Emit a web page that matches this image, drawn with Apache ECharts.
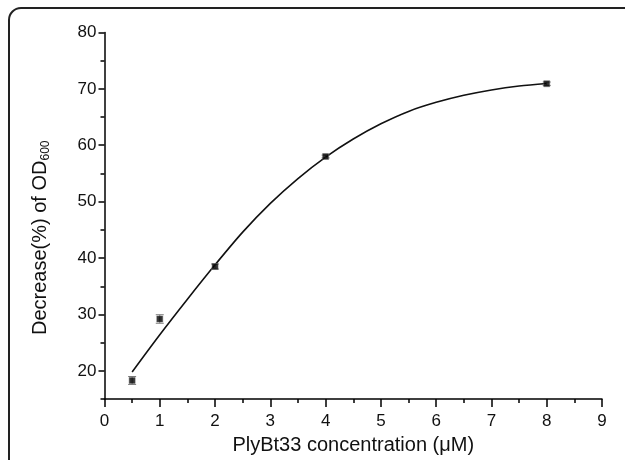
<!DOCTYPE html>
<html>
<head>
<meta charset="utf-8">
<script src="https://cdn.jsdelivr.net/npm/echarts@6/dist/echarts.min.js"></script>
<style>html,body{margin:0;padding:0;background:#fff;}#c{width:625px;height:460px;}</style>
</head>
<body>
<div id="c"></div>
<script>
// Measured data points
const xPoints = [0.5, 1, 2, 4, 8];
const yPoints = [18.3, 29.2, 38.5, 58.0, 70.9];
const yErr = [0.7, 0.75, 0.45, 0.25, 0.3];
// Fitted curve
const fitX = [0.5, 1.0, 1.5, 2.0, 2.5, 3.0, 3.5, 4.0, 4.5, 5.0, 5.5, 6.0, 6.5, 7.0, 7.5, 8.0];
const fitY = [19.8, 26.4, 32.7, 38.8, 44.6, 49.7, 54.1, 57.9, 61.1, 63.8, 66.0, 67.6, 68.85, 69.8, 70.5, 70.95];
// Tick labels
const xTicks = [0, 1, 2, 3, 4, 5, 6, 7, 8, 9];
const yTicks = [20, 30, 40, 50, 60, 70, 80];
const yMinorTicks = [15, 25, 35, 45, 55, 65, 75];

const chart = echarts.init(document.getElementById('c'));
const font = 'Liberation Sans, Arial, sans-serif';
const axisLine = { show: true, onZero: false, lineStyle: { color: '#000', width: 1.5 } };

const option = {
  backgroundColor: '#fff',
  animation: false,
  grid: { left: 104.5, right: 23, top: 32.4, bottom: 60, containLabel: false },
  xAxis: {
    type: 'value', min: xTicks[0], max: xTicks[xTicks.length - 1], interval: 1,
    axisLine: axisLine,
    axisTick: { show: true, length: 8, lineStyle: { color: '#000', width: 1.5 } },
    minorTick: { show: true, splitNumber: 2, length: 4, lineStyle: { color: '#000', width: 1.5 } },
    splitLine: { show: false },
    axisLabel: { color: '#111', fontSize: 17, fontFamily: font, margin: 14 },
    name: 'PlyBt33 concentration (\u03bcM)',
    nameLocation: 'middle', nameGap: 33,
    nameTextStyle: { color: '#111', fontSize: 20, fontFamily: font }
  },
  yAxis: [{
    type: 'value', min: 15, max: 80,
    axisLine: axisLine,
    axisTick: { show: true, length: 6, customValues: yTicks, lineStyle: { color: '#000', width: 1.5 } },
    splitLine: { show: false },
    axisLabel: { color: '#111', fontSize: 17, fontFamily: font, margin: 8, customValues: yTicks },
    name: '{a|Decrease(%) of OD}{s|600}',
    nameLocation: 'middle', nameGap: 53,
    nameTextStyle: {
      color: '#111', fontFamily: font, padding: [0, 44, 0, 0],
      rich: {
        a: { fontSize: 20, fontFamily: font, color: '#111' },
        s: { fontSize: 12, fontFamily: font, color: '#111', padding: [10, 0, 0, 0] }
      }
    }
  }, {
    type: 'value', min: 15, max: 80, position: 'left',
    axisLine: { show: false },
    axisTick: { show: true, length: 4, customValues: yMinorTicks, lineStyle: { color: '#000', width: 1.5 } },
    splitLine: { show: false },
    axisLabel: { show: false }
  }],
  series: [
    {
      type: 'line',
      data: fitX.map((x, i) => [x, fitY[i]]),
      smooth: 0.3,
      showSymbol: false, symbol: 'none',
      lineStyle: { color: '#111', width: 1.6 },
      z: 2
    },
    {
      type: 'custom',
      data: xPoints.map((x, i) => [x, yPoints[i], yErr[i]]),
      renderItem: function (params, api) {
        const x = api.value(0), y = api.value(1), e = api.value(2);
        const top = api.coord([x, y + e]);
        const bot = api.coord([x, y - e]);
        const hw = 4;
        return {
          type: 'group',
          children: [
            { type: 'line', shape: { x1: top[0], y1: top[1], x2: bot[0], y2: bot[1] }, style: { stroke: '#777', lineWidth: 1 } },
            { type: 'line', shape: { x1: top[0] - hw, y1: top[1], x2: top[0] + hw, y2: top[1] }, style: { stroke: '#777', lineWidth: 1 } },
            { type: 'line', shape: { x1: bot[0] - hw, y1: bot[1], x2: bot[0] + hw, y2: bot[1] }, style: { stroke: '#777', lineWidth: 1 } }
          ]
        };
      },
      z: 3
    },
    {
      type: 'scatter',
      data: xPoints.map((x, i) => [x, yPoints[i]]),
      symbol: 'rect', symbolSize: 6,
      itemStyle: { color: '#000', borderColor: '#666', borderWidth: 0.6 },
      z: 4
    }
  ],
  graphic: [{
    type: 'rect',
    shape: { x: 9, y: 8, width: 700, height: 600, r: [12, 0, 0, 0] },
    style: { fill: 'none', stroke: '#222', lineWidth: 2 },
    silent: true
  }]
};
chart.setOption(option);
</script>
</body>
</html>
